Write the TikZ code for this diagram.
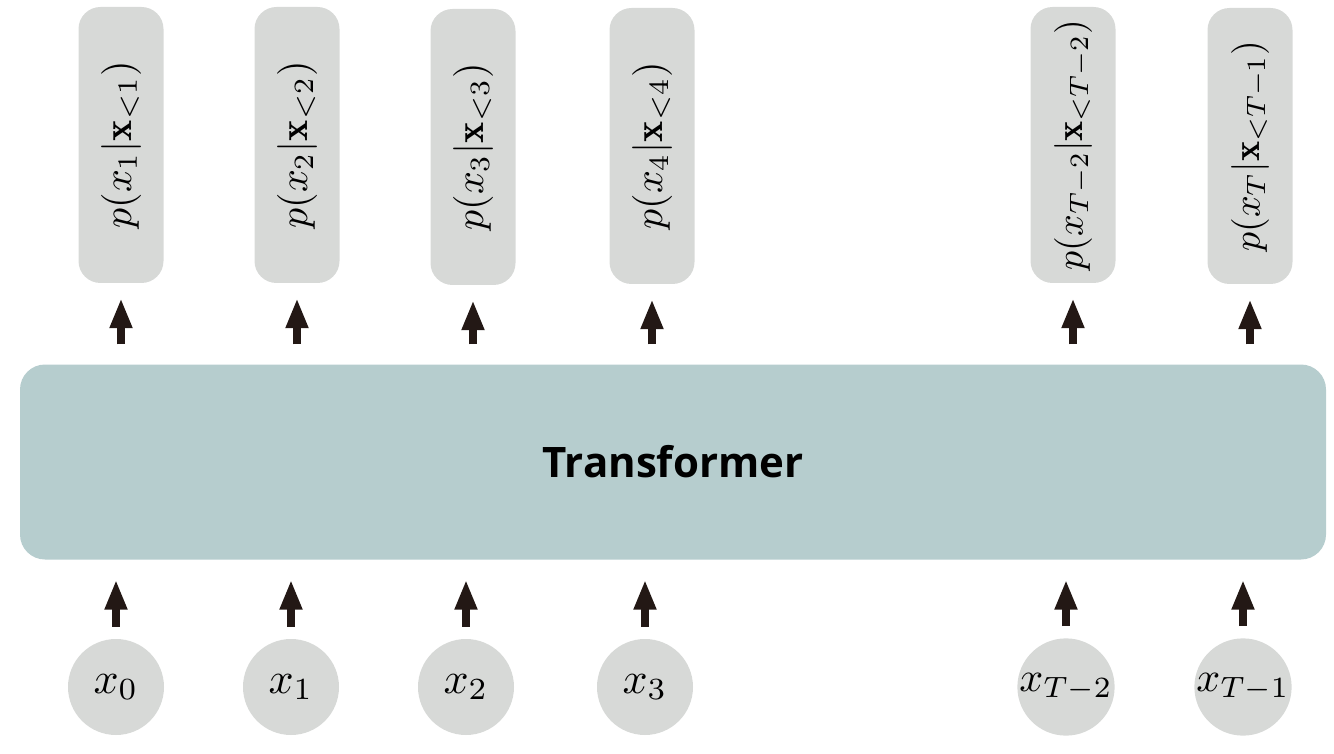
\documentclass[tikz,border=0pt]{standalone}
\usepackage{graphicx}
\usepackage{fontspec}
\setsansfont{Open Sans}
\usetikzlibrary{arrows.meta}
\definecolor{boxgray}{HTML}{D7D9D7}
\definecolor{tfteal}{HTML}{B6CDCE}
\definecolor{arrdark}{HTML}{231815}
\newcommand{\bigmath}[2][4]{\scalebox{#1}{$#2$}}
\tikzset{
	prob/.style={rectangle, rounded corners=22pt, fill=boxgray, rotate=90,
			minimum width=276pt, minimum height=85pt, inner sep=0pt},
	token/.style={circle, fill=boxgray, minimum size=96pt, inner sep=0pt},
	block/.style={rectangle, rounded corners=25pt, fill=tfteal,
			minimum width=1306pt, minimum height=195pt,
			font=\sffamily\bfseries\fontsize{42}{50}\selectfont},
	uparr/.style={arrdark, line width=8pt, -{Triangle[length=30pt,width=21pt]}}
}

\begin{document}
\begin{tikzpicture}[x=1pt,y=-1pt]
				\useasboundingbox (0,0) rectangle (1334,754);
				% the model
				\node [block] (tf) at (673,462) {Transformer};
				% outputs
				\node [prob] (p1) at (121,145) {\bigmath{p(x_1|\mathbf{x}_{<1})}};
				\node [prob] (p2) at (297,145) {\bigmath{p(x_2|\mathbf{x}_{<2})}};
				\node [prob] (p3) at (473,147) {\bigmath{p(x_3|\mathbf{x}_{<3})}};
				\node [prob] (p4) at (652,146) {\bigmath{p(x_4|\mathbf{x}_{<4})}};
				\node [prob] (pT2) at (1073,145) {\bigmath[3.8]{p(x_{T-2}|\mathbf{x}_{<T-2})}};
				\node [prob] (pT1) at (1250,146) {\bigmath[3.8]{p(x_T|\mathbf{x}_{<T-1})}};
				% inputs
				\node [token] (x0) at (116,687) {\bigmath[4.4]{x_0}};
				\node [token] (x1) at (291,687) {\bigmath[4.4]{x_1}};
				\node [token] (x2) at (466,687) {\bigmath[4.4]{x_2}};
				\node [token] (x3) at (645,687) {\bigmath[4.4]{x_3}};
				\node [token] (xT2) at (1066,687) {\bigmath[4.2]{x_{T-2}}};
				\node [token] (xT1) at (1243,687) {\bigmath[4.2]{x_{T-1}}};
				\foreach \n in {x0,x1,x2,x3,xT2,xT1}
					\draw [uparr, shorten <=12pt, shorten >=20pt] (\n.north) to (\n.north |- tf.south);
				\foreach \n in {p1,p2,p3,p4,pT2,pT1}
					\draw [uparr, shorten <=20pt, shorten >=15pt] (tf.north -| \n.west) to (\n.west);
			\end{tikzpicture}
\end{document}
